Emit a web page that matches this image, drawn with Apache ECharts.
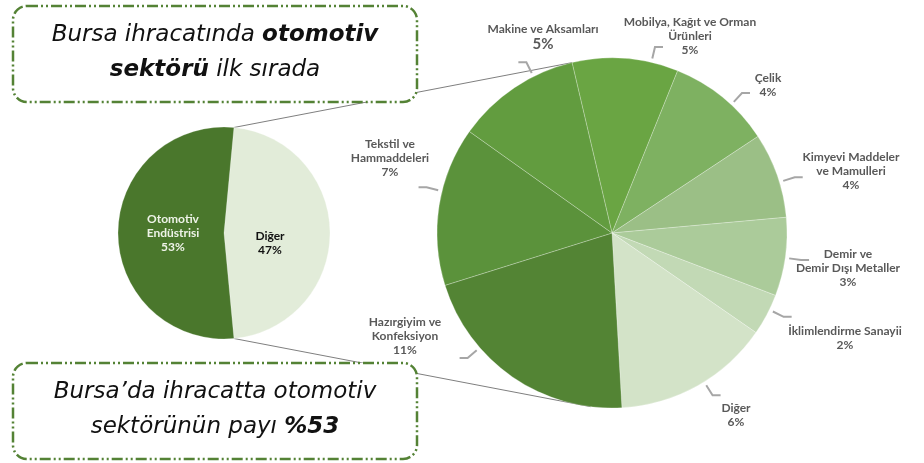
<!DOCTYPE html>
<html>
<head>
<meta charset="utf-8">
<script src="https://cdn.jsdelivr.net/npm/echarts@6/dist/echarts.min.js"></script>
<style>
  html, body { margin: 0; padding: 0; background: #fff; }
  #chart { width: 924px; height: 463px; }
</style>
</head>
<body>
<div id="chart"></div>
<script>
// sol pasta: Bursa ihracatı payları
const mainNames = ['Diğer', 'Otomotiv\nEndüstrisi'];
const mainValues = [47, 53];

// sağ pasta: "Diğer" dilimin kırılımı (saat yönünde, üstten)
const subNames = [
    'Mobilya, Kağıt ve Orman\nÜrünleri',
    'Çelik',
    'Kimyevi Maddeler\nve Mamulleri',
    'Demir ve\nDemir Dışı Metaller',
    'İklimlendirme Sanayii',
    'Diğer',
    'Hazırgiyim ve\nKonfeksiyon',
    'Tekstil ve\nHammaddeleri',
    'Makine ve Aksamları'
];
// dilim büyüklükleri (resimden okunan açılar)
const subValues = [4.6, 4.5, 3.7, 3.4, 1.8, 6.8, 9.9, 6.9, 5.4];
// etiketlerde yazan yüzdeler
const subPct = [5, 4, 4, 3, 2, 6, 11, 7, 5];

const mainColors = ['#e2ecd9', '#4a772c'];
const subColors = ['#6aa543', '#7eb161', '#9bbf86', '#abcb9a', '#c2d9b5',
                   '#d3e3c8', '#538434', '#5b923b', '#629c3f'];

// etiket merkezleri (sadece yerleşim)
const labelAt = [[690, 36], [768, 85], [851, 171], [848, 268], [845, 338],
                 [736, 415], [405, 336], [390, 158], [543, 37]];

const chart = echarts.init(document.getElementById('chart'));

const C1 = [224, 233], R1 = 106;
const C2 = [612, 233], R2 = 175;
const mainStartAngle = 90 - (180 - mainValues[0] / 100 * 360) / 2; // Diğer sağda ortalı
const subStartAngle = 103.2;

// saat yönünde, tepe noktadan derece -> piksel
function pointOn(c, r, degFromTop) {
    const a = degFromTop * Math.PI / 180;
    return [c[0] + r * Math.sin(a), c[1] - r * Math.cos(a)];
}

const mainTop = pointOn(C1, R1, 90 - mainStartAngle);
const mainBot = pointOn(C1, R1, 90 - mainStartAngle + mainValues[0] / 100 * 360);
const subTop = pointOn(C2, R2, 90 - subStartAngle);
const subBot = pointOn(C2, R2, 187);

// her dilimin tepe noktasından başlangıç/bitiş açısı
const subTotal = subValues.reduce(function (a, b) { return a + b; }, 0);
const sliceAngles = [];
let acc = 90 - subStartAngle;
subValues.forEach(function (v) {
    const span = v / subTotal * 360;
    sliceAngles.push([acc, acc + span]);
    acc += span;
});

const labelFont = 'Lato, "Open Sans", sans-serif';
const boxFont = '"DejaVu Sans", sans-serif';
const green = '#548235';

function textBox(y, text) {
    return [{
        type: 'rect',
        z: 20,
        shape: { x: 13, y: y, width: 404, height: 96, r: 14 },
        style: {
            fill: '#fff',
            stroke: green,
            lineWidth: 2.5,
            lineDash: [11, 3, 2, 3, 2, 3]
        }
    }, {
        type: 'text',
        z: 21,
        x: 215,
        y: y + 47,
        style: {
            text: text,
            align: 'center',
            verticalAlign: 'middle',
            rich: {
                n: { fontFamily: boxFont, fontStyle: 'italic', fontWeight: 300, fontSize: 23, fill: '#111', lineHeight: 35 },
                b: { fontFamily: boxFont, fontStyle: 'italic', fontWeight: 'bold', fontSize: 23, fill: '#111', lineHeight: 35 }
            }
        }
    }];
}

// kılavuz çizgisi: dilim kenarından dışarı kısa çizgi + yatay kırılım
function guideLine(idx, at) {
    const a0 = sliceAngles[idx][0], a1 = sliceAngles[idx][1];
    const mid = (a0 + a1) / 2;
    let dir = Math.atan2(at[0] - C2[0], -(at[1] - C2[1])) * 180 / Math.PI;
    while (dir < mid - 180) dir += 360;
    while (dir > mid + 180) dir -= 360;
    let a = (mid + dir) / 2;
    a = Math.max(a0 + 2, Math.min(a, a1 - 2));
    const p0 = pointOn(C2, R2 + 4, a);
    const p1 = pointOn(C2, R2 + 16, a);
    const side = p1[0] >= C2[0] ? 1 : -1;
    return [p0, p1, [p1[0] + side * 8, p1[1]]];
}

const option = {
    backgroundColor: '#fff',
    animation: false,
    graphic: [
        {
            type: 'line', z: 1,
            shape: { x1: mainTop[0], y1: mainTop[1], x2: subTop[0], y2: subTop[1] },
            style: { stroke: '#7f7f7f', lineWidth: 1 }
        },
        {
            type: 'line', z: 1,
            shape: { x1: mainBot[0], y1: mainBot[1], x2: subBot[0], y2: subBot[1] },
            style: { stroke: '#7f7f7f', lineWidth: 1 }
        },
        ...textBox(6, '{n|Bursa ihracatında }{b|otomotiv}\n{b|sektörü}{n| ilk sırada}'),
        ...textBox(363, '{n|Bursa’da ihracatta otomotiv}\n{n|sektörünün payı }{b|%53}')
    ],
    series: [{
        type: 'pie',
        center: C1,
        radius: R1,
        startAngle: mainStartAngle,
        clockwise: true,
        silent: true,
        z: 3,
        itemStyle: { borderColor: 'rgba(255,255,255,0.5)', borderWidth: 0.5 },
        label: {
            position: 'inner',
            fontFamily: labelFont,
            fontSize: 12,
            fontWeight: 'bold',
            lineHeight: 14,
            formatter: function (p) {
                return p.name + '\n' + p.value + '%';
            }
        },
        data: mainValues.map(function (v, i) {
            return {
                name: mainNames[i],
                value: v,
                itemStyle: { color: mainColors[i] },
                label: i === 0
                    ? { color: '#111', align: 'center', offset: [-10, 10] }
                    : { color: '#eef3e8', align: 'right', offset: [5, 0] }
            };
        })
    }, {
        type: 'pie',
        center: C2,
        radius: R2,
        startAngle: subStartAngle,
        clockwise: true,
        silent: true,
        z: 3,
        avoidLabelOverlap: false,
        itemStyle: { borderColor: 'rgba(255,255,255,0.5)', borderWidth: 0.5 },
        label: {
            show: true,
            position: 'outside',
            formatter: function (p) {
                const pct = subPct[p.dataIndex] + '%';
                const lines = p.name.split('\n').map(function (s) { return '{t|' + s + '}'; });
                return lines.join('\n') + '\n' + (p.dataIndex === 8 ? '{big|' + pct + '}' : '{t|' + pct + '}');
            },
            rich: {
                t: { fontFamily: labelFont, fontSize: 12, fontWeight: 'bold', color: '#595959', lineHeight: 14, align: 'center' },
                big: { fontFamily: labelFont, fontSize: 15, fontWeight: 'bold', color: '#595959', lineHeight: 16, align: 'center' }
            }
        },
        labelLine: {
            show: true,
            length: 6,
            length2: 6,
            lineStyle: { color: '#a6a6a6', width: 2 }
        },
        labelLayout: function (p) {
            const at = labelAt[p.dataIndex];
            return {
                x: at[0],
                y: at[1],
                align: 'center',
                verticalAlign: 'middle',
                labelLinePoints: guideLine(p.dataIndex, at)
            };
        },
        data: subValues.map(function (v, i) {
            return { name: subNames[i], value: v, itemStyle: { color: subColors[i] } };
        })
    }]
};

chart.setOption(option);
</script>
</body>
</html>
